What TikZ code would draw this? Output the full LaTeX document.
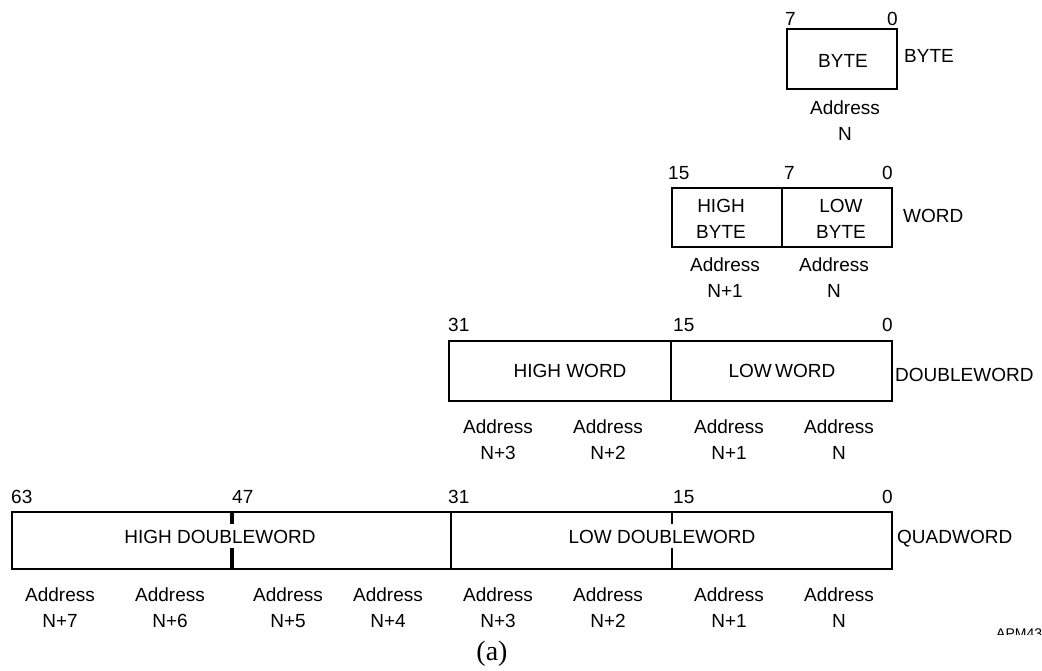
\documentclass[tikz,border=0pt]{standalone}
\usepackage{fontspec}
\setmainfont{Liberation Sans}
\newfontfamily\capfont{Liberation Serif}
\begin{document}
\begin{tikzpicture}[x=1pt,y=-1pt,
  cell/.style={draw, line width=1.4pt, inner sep=0pt, outer sep=0pt, anchor=north west},
  txt/.style={inner sep=0pt, font=\fontsize{19}{26}\selectfont, align=center},
  bitl/.style={txt, anchor=west},
  bitr/.style={txt, anchor=east},
  side/.style={txt, anchor=west},
  tick/.style={line width=1.4pt},
  thicktick/.style={line width=3.2pt}]
\useasboundingbox (0,0) rectangle (1042,670);

% ---------- BYTE ----------
\node[cell, minimum width=110pt, minimum height=60pt] (byte) at (787,29) {};
\node[txt] (bytet) at (843,61) {BYTE};
\node[bitl] (b7) at (785,19) {7};
\node[bitr] (b0) at (898,19) {0};
\node[side] (bytelbl) at (904,56) {BYTE};
\node[txt] (ba0) at (845,121) {Address\\N};

% ---------- WORD ----------
\node[cell, minimum width=110pt, minimum height=59pt] (hb) at (672,188) {};
\node[cell, minimum width=110pt, minimum height=59pt] (lb) at (782,188) {};
\node[txt] (hbt) at (721,219) {HIGH\\BYTE};
\node[txt] (lbt) at (841,219) {LOW\\BYTE};
\node[bitl] (w15) at (668,173) {15};
\node[bitl] (w7) at (784,173) {7};
\node[bitr] (w0) at (893,173) {0};
\node[side] (wordlbl) at (903,216) {WORD};
\node[txt] (wa1) at (725,278) {Address\\N+1};
\node[txt] (wa0) at (834,278) {Address\\N};

% ---------- DOUBLEWORD ----------
\node[cell, minimum width=222pt, minimum height=60pt] (hw) at (449,341) {};
\node[cell, minimum width=221pt, minimum height=60pt] (lw) at (671,341) {};
\node[txt] (hwt) at (570,371) {HIGH WORD};
\node[txt] (lwt) at (782,371) {LOW\kern-2pt\ WORD};
\node[bitl] (d31) at (448,325) {31};
\node[bitl] (d15) at (673,325) {15};
\node[bitr] (d0) at (893,325) {0};
\node[side] (dwlbl) at (895,375) {DOUBLEWORD};
\node[txt] (da3) at (498,440) {Address\\N+3};
\node[txt] (da2) at (608,440) {Address\\N+2};
\node[txt] (da1) at (729,440) {Address\\N+1};
\node[txt] (da0) at (839,440) {Address\\N};

% ---------- QUADWORD ----------
\node[cell, minimum width=439pt, minimum height=57pt] (hdw) at (12,512) {};
\node[cell, minimum width=441pt, minimum height=57pt] (ldw) at (451,512) {};
\coordinate (t47a) at (232,512);
\coordinate (t47b) at (232,524);
\coordinate (t47c) at (232,548);
\coordinate (t47d) at (232,569);
\coordinate (t15a) at (672,512);
\coordinate (t15b) at (672,524);
\coordinate (t15c) at (672,548);
\coordinate (t15d) at (672,569);
\draw[thicktick] (t47a) -- (t47b) (t47c) -- (t47d);
\draw[tick] (t15a) -- (t15b) (t15c) -- (t15d);
\node[txt] (hdwt) at (220,537) {HIGH DOUBLEWORD};
\node[txt] (ldwt) at (662,537) {LOW DOUBLEWORD};
\node[bitl] (q63) at (11,497) {63};
\node[bitl] (q47) at (232,497) {47};
\node[bitl] (q31) at (448,497) {31};
\node[bitl] (q15) at (673,497) {15};
\node[bitr] (q0) at (893,497) {0};
\node[side] (qwlbl) at (897,539) {QUADWORD};
\node[txt] (qa7) at (60,608) {Address\\N+7};
\node[txt] (qa6) at (170,608) {Address\\N+6};
\node[txt] (qa5) at (288,608) {Address\\N+5};
\node[txt] (qa4) at (388,608) {Address\\N+4};
\node[txt] (qa3) at (498,608) {Address\\N+3};
\node[txt] (qa2) at (608,608) {Address\\N+2};
\node[txt] (qa1) at (729,608) {Address\\N+1};
\node[txt] (qa0) at (839,608) {Address\\N};

% ---------- caption ----------
\node[inner sep=0pt, font=\capfont\fontsize{28}{28}\selectfont] (cap) at (492,654) {(a)};
\begin{scope}
  \clip (985,620) rectangle (1042,634);
  \node[inner sep=0pt, anchor=north west, font=\fontsize{14}{14}\selectfont] (apm) at (996,629) {APM43};
\end{scope}
\end{tikzpicture}
\end{document}
